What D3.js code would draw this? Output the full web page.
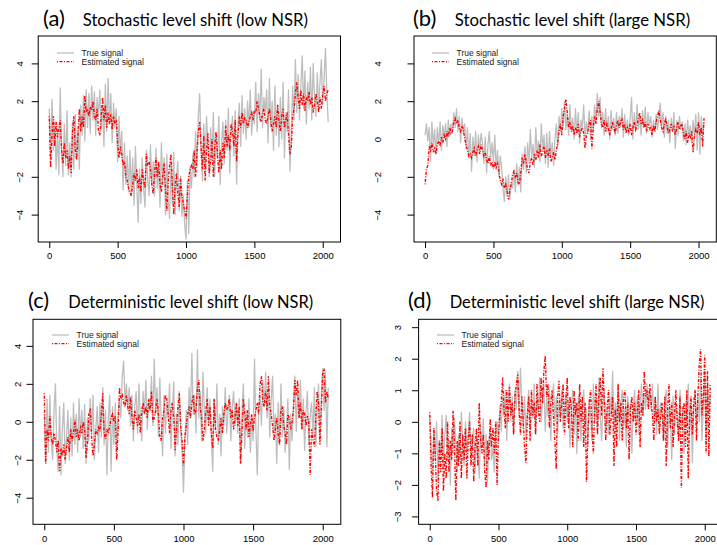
<!DOCTYPE html>
<html><head><meta charset="utf-8">
<script src="https://cdn.jsdelivr.net/npm/d3@7/dist/d3.min.js"></script>
<style>body{margin:0;background:#fff}svg{display:block}</style></head>
<body><svg id="chart" width="717" height="545"></svg>
<script>
// sample spacing (time index between listed values)
const sampleStep = 10;
const xTicks = [0, 500, 1000, 1500, 2000];
const yTicksWide = [-4, -2, 0, 2, 4];
const yTicksD = [-3, -2, -1, 0, 1, 2, 3];
const legendLabels = ["True signal", "Estimated signal"];
const panelLetters = ["(a)", "(b)", "(c)", "(d)"];
const panelTitles = ["Stochastic level shift (low NSR)", "Stochastic level shift (large NSR)",
  "Deterministic level shift (low NSR)", "Deterministic level shift (large NSR)"];

const aTrue = [1.6,-1.0,2.1,-0.6,0.9,-1.6,0.4,-1.9,2.7,-0.5,
 -2.0,0.8,-1.4,1.5,-1.9,-0.2,-2.0,0.9,-1.6,1.3,
 -1.1,0.6,-1.6,1.8,0.2,2.3,-0.1,2.6,0.6,2.4,
 0.3,2.8,1.0,2.5,0.2,2.2,1.2,2.6,0.5,1.8,
 -0.4,2.9,0.4,3.2,0.8,2.4,-0.2,1.9,0.6,1.6,
 -1.2,1.2,-0.8,0.4,-2.7,-0.2,-2.4,-0.9,-2.8,-0.6,
 -3.0,-1.0,-3.5,-0.4,-2.4,-4.4,-1.6,-3.4,-1.0,-2.6,
 -3.6,-0.6,-2.2,-3.0,-0.3,-2.4,-1.2,-3.0,-0.5,-2.6,
 -1.4,-3.6,-0.2,-2.4,-1.0,-4.0,-0.8,-3.2,-4.2,-1.2,
 -3.4,-0.7,-4.0,-2.2,-1.2,-3.8,-2.0,-4.1,-3.0,-4.5,
 -5.3,-2.2,-5.0,-1.5,-2.6,-0.8,-2.0,0.4,-1.5,1.2,
 2.4,-0.6,-2.2,0.8,-1.6,1.2,-0.4,-2.0,0.6,-1.2,
 1.4,-2.0,0.2,-1.0,1.2,-2.4,-0.2,0.9,-1.3,1.0,
 -0.6,1.6,-1.8,0.4,1.2,-0.9,1.5,-2.4,0.8,1.9,
 -0.4,2.3,0.3,1.6,0.0,2.0,0.6,2.6,0.2,1.4,
 0.8,3.0,0.4,2.4,1.0,3.7,0.6,2.2,1.4,2.6,
 -0.2,3.2,0.6,2.0,-0.6,2.8,0.2,1.8,-0.4,2.2,
 0.0,3.0,-1.0,1.4,0.4,2.6,-1.7,0.4,2.8,1.0,
 4.2,1.4,3.4,1.0,2.8,4.4,1.6,3.6,0.8,3.0,
 1.6,3.8,1.0,4.0,2.2,1.2,3.5,1.6,3.0,4.2,
 1.8,3.2,4.8,2.4,0.9];
const aEst = [1.2,-1.5,0.2,1.2,-0.4,0.9,0.1,0.6,1.0,-0.6,
 -1.3,-0.2,-1.0,-0.6,-1.6,-0.9,-1.8,0.4,1.2,-0.5,
 -1.1,0.2,1.6,0.4,1.2,0.6,2.3,1.4,1.6,1.2,
 1.7,1.5,2.0,1.2,1.0,1.6,0.4,0.2,1.2,2.2,
 1.0,1.8,0.6,1.4,0.8,1.3,0.5,1.2,0.8,1.0,
 -0.2,-1.0,-0.4,-0.8,-1.4,-1.2,-2.0,-2.2,-2.6,-2.8,
 -3.0,-2.4,-1.8,-2.2,-1.6,-2.6,-2.0,-2.8,-1.6,-2.2,
 -2.6,-0.8,-1.4,-1.2,-1.6,-2.4,-2.9,-1.8,-1.0,-2.0,
 -1.2,-2.4,-2.8,-1.9,-1.3,-2.6,-3.8,-2.2,-1.4,-0.8,
 -2.4,-4.0,-2.6,-1.8,-2.8,-3.6,-2.0,-3.0,-3.4,-3.8,
 -4.2,-3.0,-2.0,-1.6,-1.4,-1.6,-0.6,-2.0,-0.8,0.4,
 0.9,-0.4,-1.6,0.2,-2.2,-0.6,0.3,-1.8,-1.2,0.0,
 -2.0,-0.4,0.4,-0.8,-1.8,-0.6,-1.6,-0.2,-1.0,0.7,
 -0.4,0.2,-0.6,0.8,0.4,-0.4,1.0,-1.2,0.2,1.2,
 0.6,1.4,0.8,1.1,1.0,0.6,0.9,1.2,1.4,1.0,
 1.5,1.4,2.0,1.6,1.2,0.9,1.4,1.6,1.0,0.8,
 1.2,1.6,1.0,0.4,0.8,1.2,0.6,1.8,1.0,0.4,
 1.2,1.6,0.6,1.0,1.4,0.2,-0.8,-0.4,1.2,1.6,
 2.4,3.0,2.2,1.6,2.6,1.8,2.4,1.5,2.2,2.0,
 2.5,1.8,2.2,1.4,1.8,2.4,2.0,1.4,2.2,1.6,
 2.4,2.8,2.0,2.4,2.6];

const bTrue = [0.2,0.8,-0.1,0.6,-1.2,0.9,-0.4,0.5,-0.8,0.6,
 -0.3,0.9,-0.6,0.7,0.1,0.8,-0.4,1.0,0.2,0.8,
 0.3,1.4,0.6,1.6,0.4,1.2,-0.2,1.1,0.3,0.8,
 -0.5,0.6,-1.0,0.3,-1.7,0.1,-0.9,0.4,-1.2,0.2,
 -0.6,0.3,-0.2,-1.3,0.1,-1.8,-0.3,0.4,-1.0,-0.2,
 -1.2,0.2,-1.6,-0.6,-2.0,-0.9,-1.5,-2.6,-3.3,-2.0,
 -3.0,-1.9,-3.2,-2.3,-2.6,-1.7,-2.8,-1.3,-2.4,-1.5,
 -2.8,-0.8,-1.6,-0.4,-1.8,-0.2,-1.3,0.5,-1.0,-0.3,
 -1.5,0.6,-0.8,-0.1,-1.2,0.8,-0.6,0.2,-1.3,0.3,
 -1.5,0.4,-0.9,-0.2,-1.4,0.0,0.8,-0.4,1.2,0.4,
 1.6,0.6,2.0,0.5,1.3,0.2,1.8,0.4,1.1,0.0,
 1.6,0.3,1.4,-0.2,1.0,0.6,1.8,0.1,0.9,0.3,
 1.5,0.0,1.2,0.4,1.8,1.0,2.4,1.2,2.2,0.6,
 1.4,0.2,1.6,0.4,1.2,0.0,1.5,0.5,1.1,0.2,
 1.4,0.3,1.2,0.6,1.6,0.1,1.3,0.4,1.0,0.2,
 1.1,2.2,0.0,1.4,0.4,1.8,0.5,1.2,0.2,1.5,
 0.6,1.7,0.3,1.4,0.7,1.2,0.1,1.0,0.4,1.3,
 0.5,1.2,1.9,0.6,1.4,0.1,1.2,0.3,1.0,-0.2,
 1.1,0.4,1.4,-0.5,1.0,0.2,1.2,0.5,0.9,-0.1,
 0.8,-0.3,1.0,0.2,0.7,-0.2,1.0,0.1,1.3,-0.6,
 1.4,-0.8,1.2,0.2,0.9];
const bEst = [-2.4,-1.6,-1.4,-0.4,-0.6,-0.2,-0.7,-0.5,-0.8,-0.3,
 -0.1,-0.3,0.1,-0.2,0.2,0.0,0.4,0.1,0.6,0.3,
 0.4,0.9,1.1,0.8,1.0,0.6,0.4,0.7,0.5,0.0,
 -0.3,-0.6,-0.9,-0.8,-1.0,-0.7,-0.5,-0.9,-0.6,-0.4,
 -0.8,-0.3,-0.6,-0.9,-0.7,-1.1,-1.3,-0.9,-1.4,-1.2,
 -1.6,-1.2,-1.5,-1.3,-1.7,-2.2,-2.4,-2.1,-2.6,-2.4,
 -2.8,-3.2,-2.7,-2.4,-1.9,-1.7,-2.0,-1.8,-2.3,-2.4,
 -1.8,-1.0,-1.3,-0.8,-1.2,-1.6,-1.8,-1.2,-1.0,-1.4,
 -0.8,-1.1,-0.6,-1.0,-0.3,-0.9,-0.7,-0.4,-1.0,-0.6,
 -0.9,-0.5,-1.2,-1.0,-0.7,-1.1,-0.6,-0.2,0.4,0.8,
 0.2,1.2,1.6,2.1,1.4,0.6,0.9,0.4,0.7,0.2,
 0.6,0.3,0.8,0.1,0.4,0.6,0.3,-0.5,0.2,0.4,
 0.8,1.0,-0.5,0.6,1.2,0.8,1.6,2.0,1.4,0.8,
 0.6,1.0,0.4,0.8,0.6,0.2,0.5,0.9,0.6,0.3,
 0.7,1.0,0.6,0.9,1.1,0.5,0.8,0.3,0.6,0.4,
 0.8,0.2,0.6,0.9,0.5,0.7,1.1,1.4,0.8,1.0,
 0.6,0.9,0.4,0.8,0.5,0.6,0.2,0.7,0.4,0.9,
 1.2,1.5,1.0,0.6,0.4,0.8,1.1,0.7,0.3,0.5,
 0.8,0.4,0.7,0.2,0.6,0.9,0.5,0.7,0.8,0.3,
 0.0,0.4,-0.2,0.3,0.1,0.4,-0.7,0.2,0.5,0.3,
 0.9,0.2,0.6,-0.4,1.1];

const cTrue = [0.4,-2.2,1.2,-1.6,1.4,-1.0,-2.0,0.6,2.0,-1.4,
 -2.6,0.8,-2.8,-0.4,1.0,-2.2,-0.8,0.6,-2.0,0.2,
 -1.8,1.0,-1.2,0.4,-1.6,1.2,-0.8,0.6,-1.4,0.9,
 -2.2,0.2,-1.0,1.2,-0.6,1.4,-2.0,-0.4,0.8,-1.6,
 1.0,-0.8,1.8,-1.2,0.6,-2.8,0.2,1.4,-2.6,0.8,
 -1.2,1.0,-1.5,0.4,1.2,0.2,2.4,3.2,1.0,2.0,
 0.6,1.8,-0.2,1.4,-1.0,0.8,1.6,-0.6,2.0,0.2,
 -1.0,1.6,0.4,2.2,-0.4,1.2,0.6,2.4,-0.2,3.3,
 0.4,1.8,-0.8,2.3,0.0,-1.8,1.4,-0.6,1.0,0.2,
 2.0,-1.4,0.6,2.1,-1.8,0.4,-1.2,1.6,-0.4,-1.6,
 -3.7,-1.0,0.6,-1.2,1.8,0.2,3.6,0.4,1.4,-0.6,
 3.8,0.2,1.6,-1.0,2.6,0.6,-0.6,1.8,-0.2,1.2,
 -0.8,-2.6,1.2,-0.4,2.0,-1.2,0.4,-1.8,0.8,-0.2,
 1.8,-0.6,0.6,1.4,-1.0,0.8,1.6,-0.2,1.0,-0.6,
 1.2,-2.2,0.4,2.0,-1.4,0.6,-0.8,1.2,-1.6,0.2,
 -1.0,3.3,-0.4,-2.8,0.6,1.4,-0.2,2.2,0.8,2.6,
 0.2,1.8,-0.8,1.2,2.4,-0.6,0.4,-2.2,1.0,-1.2,
 2.0,-0.8,0.8,-1.6,-0.2,1.2,-2.5,0.4,-1.0,1.0,
 2.4,-0.5,1.6,0.2,2.2,-0.4,1.2,-1.5,0.6,1.6,
 -1.2,0.4,1.0,-0.8,1.8,-1.3,0.6,2.0,-1.0,1.4,
 2.8,0.6,2.6,-1.3,1.8];
const cEst = [1.5,-2.2,-0.4,-1.0,0.3,-0.8,-1.2,-0.6,-1.0,-1.6,
 -1.0,-2.6,-1.4,-1.8,-1.2,-2.0,-1.4,-0.8,-1.6,-0.4,
 -1.0,-0.6,0.1,-0.8,-0.4,-1.0,-0.2,-0.6,0.0,-0.4,
 -1.9,-1.2,0.4,0.7,-0.8,-1.8,-1.2,-0.4,-0.6,-0.3,
 -0.5,0.4,1.5,-0.6,-0.9,-0.4,-0.6,-0.2,0.2,0.4,
 0.0,0.3,-2.0,-0.6,1.8,1.2,1.4,1.0,0.8,1.4,
 0.8,0.4,1.3,0.2,-0.4,0.6,0.2,-0.2,0.4,-0.6,
 0.6,1.0,0.4,0.8,0.2,1.2,0.6,1.6,0.0,0.2,
 0.6,1.2,0.4,-0.8,-1.0,0.2,0.6,1.4,1.2,0.4,
 -0.6,0.6,1.0,0.2,-1.5,-0.4,0.8,1.5,-0.2,-1.0,
 -2.3,-0.8,-0.2,0.4,0.8,0.2,1.0,1.4,0.4,0.6,
 1.8,2.2,0.8,0.2,-1.0,-0.4,0.6,1.2,-0.2,0.8,
 -0.6,-1.4,1.2,-0.4,-0.8,-1.0,-0.4,0.2,-0.6,0.4,
 1.0,0.6,0.8,1.2,0.2,0.6,-0.4,0.2,1.0,-0.2,
 0.8,-2.2,-0.6,1.2,0.4,-0.4,0.6,-0.8,-0.2,0.4,
 -0.5,0.2,0.6,1.0,0.4,2.0,2.4,1.0,0.8,1.6,
 0.6,2.4,0.8,0.4,-0.2,-1.0,-0.4,0.2,-0.6,-1.2,
 0.6,0.8,-0.2,-0.6,-1.2,0.4,0.2,-0.4,0.0,0.6,
 2.2,1.4,2.2,0.2,1.0,-0.4,0.6,0.4,-0.2,0.3,
 0.0,-2.8,-0.4,-0.9,-1.3,0.2,1.6,1.0,-1.2,0.6,
 2.6,2.8,1.0,1.6,1.2];

const dTrue = [0.2,-0.8,-1.6,-0.2,-1.2,0.0,-1.9,-0.6,-1.0,0.2,
 -1.4,-0.4,0.2,-1.2,-0.6,-2.0,-0.2,-1.0,0.1,-0.8,
 -1.6,-0.4,-1.2,0.3,-0.6,-1.4,0.0,-1.0,-0.4,0.3,
 -1.2,-0.6,-0.2,-1.6,-0.4,-1.0,-1.8,-0.2,-0.8,0.1,
 -1.4,-0.4,-1.9,-0.6,-0.2,-1.2,-0.8,-1.6,-0.4,0.0,
 -0.6,0.5,-0.3,0.8,0.2,1.0,-0.6,0.6,1.2,0.0,
 0.8,-0.4,1.0,0.4,1.6,0.2,1.7,0.6,-0.2,0.8,
 -0.6,0.4,1.0,-0.2,0.6,0.1,1.2,-0.4,0.8,0.2,
 1.4,0.0,0.6,1.2,-0.3,0.8,0.2,1.0,-0.6,0.5,
 1.2,0.0,0.8,-0.4,0.6,0.2,1.0,-0.2,0.4,0.9,
 0.0,0.6,-0.8,0.4,1.0,-0.4,0.6,-1.0,0.8,0.2,
 -0.6,0.6,1.0,-0.2,0.4,-0.8,0.7,0.2,-0.6,1.2,
 0.0,0.8,-0.4,1.4,0.2,-0.6,0.6,1.0,-0.2,0.4,
 -0.4,0.8,0.2,1.6,-0.2,0.6,0.0,1.2,-0.6,0.6,
 1.0,-0.2,0.4,-0.8,0.8,0.2,0.6,-1.0,0.4,1.0,
 0.0,0.8,-0.4,0.6,1.2,0.2,0.9,0.4,1.2,0.6,
 1.0,0.4,1.2,0.0,0.8,-0.4,1.2,-0.2,0.6,0.2,
 -0.6,0.6,1.0,-0.8,0.4,0.0,-1.2,0.8,-0.4,0.6,
 0.2,-0.6,1.0,-0.2,0.4,-1.0,0.6,0.0,1.2,-0.4,
 0.6,-1.3,0.4,1.0,-0.2,0.8,0.0,1.4,-0.6,0.6,
 1.6,-0.8,1.2,0.2,0.8];
const dEst = [0.3,-1.4,-2.4,-0.2,-1.0,-2.2,-2.5,-0.6,-1.6,-0.2,
 -2.2,-1.0,-1.8,0.0,-1.6,-0.6,-1.2,0.35,-0.8,-2.5,
 -0.6,-1.4,0.0,-1.8,-0.4,-1.2,-0.2,-1.8,-0.6,0.0,
 -1.4,-0.4,-1.9,-0.8,-0.2,-1.4,0.6,-0.6,-1.0,-0.4,
 -1.6,-2.1,-0.6,-1.2,0.1,-0.8,-0.2,-1.0,0.0,-2.0,
 -0.4,0.2,0.6,1.4,0.4,-0.2,1.0,0.0,1.1,0.2,
 0.6,-0.4,0.8,1.2,1.5,0.4,-0.4,0.8,0.0,-0.8,
 -1.3,0.2,0.8,-0.6,1.0,0.2,0.6,-0.4,1.2,0.4,
 0.0,1.4,0.6,1.6,2.1,0.8,1.2,-0.2,0.6,1.0,
 0.2,-0.6,-1.5,0.8,1.3,0.0,0.6,1.2,-0.4,0.6,
 1.4,-0.2,0.8,0.4,-0.8,1.0,0.2,0.6,-0.6,1.2,
 0.0,0.8,-0.8,0.6,-1.9,-0.4,0.6,1.0,-0.2,-1.0,
 0.4,1.2,-0.4,0.8,1.4,0.2,1.7,0.6,-0.6,0.4,
 1.0,-0.4,0.2,0.8,-1.4,0.4,-0.8,1.2,0.0,0.6,
 -0.6,0.8,1.0,-0.2,0.6,-1.2,0.4,0.8,0.0,0.6,
 -0.4,0.2,1.0,-0.8,0.6,0.2,1.6,0.8,1.0,0.4,
 1.2,0.6,0.2,-0.6,0.8,0.0,0.4,-0.4,0.2,0.6,
 -0.6,0.8,-1.4,0.4,1.2,-0.2,0.6,-0.8,0.2,1.0,
 0.0,-0.6,0.8,-2.1,0.4,0.6,-0.8,1.0,-1.8,0.2,
 0.8,-0.4,0.6,1.0,-0.6,0.8,1.8,2.3,0.2,0.8,
 2.1,-1.0,1.6,-1.1,1.2];

const panels = [
  {trueS: aTrue, estS: aEst, yTicks: yTicksWide, yDom: [-5.45, 5.45],
   box: {l: 38.2, t: 36, r: 340.5, b: 242}, letterX: 43, titleX: 82.7, titleW: 225.3, titleY: 26,
   legX: 57, legY: 53, yLabX: 19, xLabY: 262},
  {trueS: bTrue, estS: bEst, yTicks: yTicksWide, yDom: [-5.45, 5.45],
   box: {l: 414, t: 36, r: 716.3, b: 242}, letterX: 413, titleX: 454.7, titleW: 235.6, titleY: 26,
   legX: 432, legY: 53, yLabX: 377, xLabY: 262},
  {trueS: cTrue, estS: cEst, yTicks: yTicksWide, yDom: [-5.4, 5.4],
   box: {l: 33.0, t: 319.3, r: 340.8, b: 524.3}, letterX: 28, titleX: 68.3, titleW: 245, titleY: 308,
   legX: 52, legY: 335, yLabX: 17.5, xLabY: 545},
  {trueS: dTrue, estS: dEst, yTicks: yTicksD, yDom: [-3.25, 3.25],
   box: {l: 418.6, t: 319.3, r: 722.6, b: 524.3}, letterX: 408, titleX: 449.7, titleW: 255, titleY: 308,
   legX: 437, legY: 335, yLabX: 397, xLabY: 545}
];

const svg = d3.select("#chart");
const axisFont = "'Liberation Sans', Arial, Helvetica, sans-serif";
const titleFont = "Lato, 'Open Sans', 'DejaVu Sans', sans-serif";

panels.forEach((p, k) => {
  const g = svg.append("g");
  const x = d3.scaleLinear().domain([-80.9, 2129.9]).range([p.box.l, p.box.r]);
  const y = d3.scaleLinear().domain(p.yDom).range([p.box.b, p.box.t]);
  const clipId = "clip" + k;
  g.append("clipPath").attr("id", clipId).append("rect")
    .attr("x", p.box.l).attr("y", p.box.t).attr("width", p.box.r - p.box.l).attr("height", p.box.b - p.box.t);

  const line = d3.line().x((d, i) => x(i * sampleStep)).y(d => y(d));
  const plot = g.append("g").attr("clip-path", `url(#${clipId})`);
  plot.append("path").datum(p.trueS).attr("d", line)
    .attr("fill", "none").attr("stroke", "#bebebe").attr("stroke-width", 1.3).attr("stroke-linejoin", "round");
  plot.append("path").datum(p.estS).attr("d", line)
    .attr("fill", "none").attr("stroke", "#ff0000").attr("stroke-width", 1.4)
    .attr("stroke-dasharray", "1,1.5,3,1.5");

  // box
  g.append("rect").attr("x", p.box.l).attr("y", p.box.t)
    .attr("width", p.box.r - p.box.l).attr("height", p.box.b - p.box.t)
    .attr("fill", "none").attr("stroke", "#000").attr("stroke-width", 1);

  // x axis
  const xAxis = d3.axisBottom(x).tickValues(xTicks).tickSize(6).tickFormat(d3.format("d"));
  const xa = g.append("g").attr("transform", `translate(0,${p.box.b})`).call(xAxis);
  xa.select(".domain").remove();
  xa.selectAll("text").attr("font-family", axisFont).attr("font-size", 9.5).attr("fill", "#000")
    .attr("y", p.xLabY - 3 - p.box.b).attr("dy", null);
  // y axis
  const yAxis = d3.axisLeft(y).tickValues(p.yTicks).tickSize(6.5).tickFormat(d3.format("d"));
  const ya = g.append("g").attr("transform", `translate(${p.box.l},0)`).call(yAxis);
  ya.select(".domain").remove();
  ya.selectAll(".tick text").attr("font-family", axisFont).attr("font-size", 9.5).attr("fill", "#000")
    .attr("x", null).attr("dy", null)
    .attr("text-anchor", "middle").attr("dominant-baseline", "central")
    .attr("transform", `translate(${p.yLabX - p.box.l},0) rotate(-90)`);
  g.selectAll(".tick line").attr("stroke", "#000");

  // legend
  const lg = g.append("g");
  lg.append("line").attr("x1", p.legX).attr("x2", p.legX + 17).attr("y1", p.legY).attr("y2", p.legY)
    .attr("stroke", "#bebebe").attr("stroke-width", 1.3);
  lg.append("line").attr("x1", p.legX).attr("x2", p.legX + 17).attr("y1", p.legY + 8.7).attr("y2", p.legY + 8.7)
    .attr("stroke", "#ff0000").attr("stroke-width", 1.2).attr("stroke-dasharray", "1,1.5,3,1.5");
  legendLabels.forEach((t, j) => {
    lg.append("text").attr("x", p.legX + 24.5).attr("y", p.legY + j * 8.7)
      .attr("dominant-baseline", "central").attr("font-family", axisFont).attr("font-size", 8.5)
      .attr("fill", "#222").text(t);
  });

  // titles: letter, then title text squeezed horizontally to the reference width
  g.append("text").attr("x", p.letterX).attr("y", p.titleY).attr("font-family", titleFont)
    .attr("font-size", 22).attr("fill", "#000").text(panelLetters[k]);
  const tt = g.append("text").attr("font-family", titleFont)
    .attr("font-size", 17).attr("fill", "#000").text(panelTitles[k]);
  const natural = tt.node().getComputedTextLength();
  const sx = Math.min(1.2, p.titleW / natural);
  tt.attr("transform", `translate(${p.titleX},${p.titleY}) scale(${sx},1)`);
});
</script></body></html>
